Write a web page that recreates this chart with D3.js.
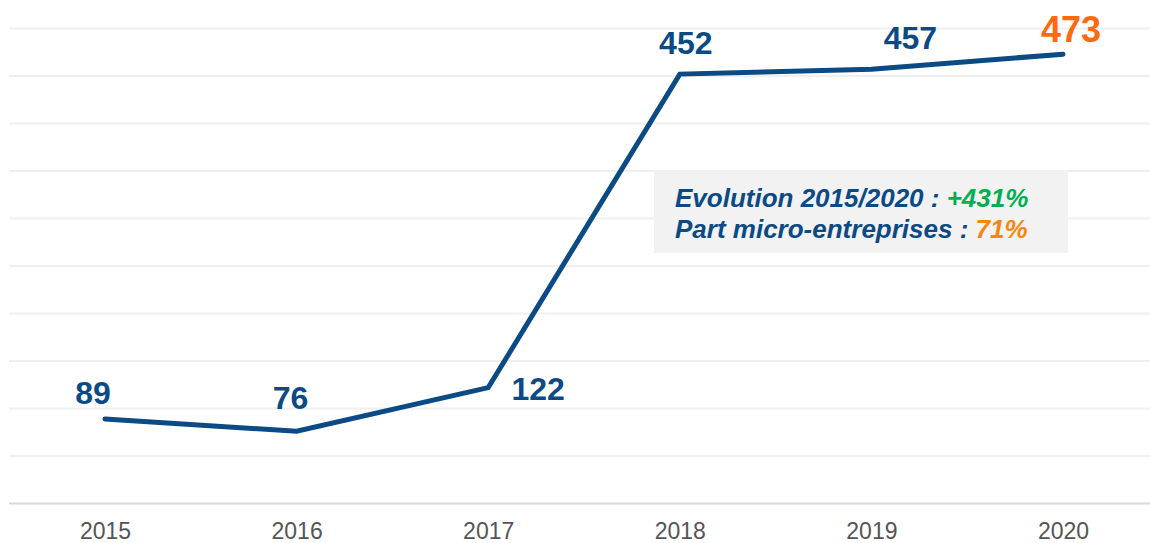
<!DOCTYPE html>
<html>
<head>
<meta charset="utf-8">
<script src="https://cdn.jsdelivr.net/npm/d3@7"></script>
<style>
  body { margin: 0; background: #fff; }
  svg { display: block; font-family: "Liberation Sans", Arial, sans-serif; }
</style>
</head>
<body>
<div id="chart"></div>
<script>
// data
const years = ["2015", "2016", "2017", "2018", "2019", "2020"];
const values = [89, 76, 122, 452, 457, 473];
const gridTicks = [0, 50, 100, 150, 200, 250, 300, 350, 400, 450, 500];
const noteLines = [
  ["Evolution 2015/2020 : ", "+431%"],
  ["Part micro-entreprises : ", "71%"]
];

const W = 1150, H = 543;
const navy = "#0b4a84";

const svg = d3.select("#chart").append("svg")
  .attr("width", W)
  .attr("height", H);

const x = d3.scalePoint()
  .domain(years)
  .range([105, 1063]);

const y = d3.scaleLinear()
  .domain([0, 500])
  .range([503.5, 28.5]);

// gridlines
svg.append("g").selectAll("line")
  .data(gridTicks)
  .enter()
  .append("line")
  .attr("x1", 9)
  .attr("x2", W)
  .attr("y1", d => y(d))
  .attr("y2", d => y(d))
  .attr("stroke", d => d === 0 ? "#d9d9d9" : "#efefef")
  .attr("stroke-width", 2);

// x axis labels
const xAxis = svg.append("g")
  .attr("transform", `translate(0,${y(0)})`)
  .call(d3.axisBottom(x).tickSize(0).tickPadding(19));
xAxis.select(".domain").remove();
xAxis.selectAll("text")
  .style("font-family", "'Liberation Sans', Arial, sans-serif")
  .style("font-size", "23px")
  .attr("fill", "#555555");

// note box
const box = svg.append("g");
box.append("rect")
  .attr("x", 654)
  .attr("y", 170)
  .attr("width", 414)
  .attr("height", 83)
  .attr("fill", "#f2f2f2");
box.selectAll("text")
  .data(noteLines)
  .enter()
  .append("text")
  .attr("x", 675)
  .attr("y", (d, i) => 207 + i * 31)
  .attr("font-size", 26)
  .attr("font-weight", "bold")
  .attr("font-style", "italic")
  .attr("fill", navy)
  .each(function(d, i) {
    const t = d3.select(this);
    t.append("tspan").text(d[0]);
    t.append("tspan")
      .attr("fill", i === 0 ? "#00b050" : "#f5870f")
      .text(d[1]);
  });

// line
const line = d3.line()
  .x((d, i) => x(years[i]))
  .y(d => y(d));

svg.append("path")
  .datum(values)
  .attr("d", line)
  .attr("fill", "none")
  .attr("stroke", navy)
  .attr("stroke-width", 5)
  .attr("stroke-linecap", "round")
  .attr("stroke-linejoin", "miter");

// value labels (offsets relative to each point)
const labelDx = [-12, -6, 50, 6, 39, 8];
const labelDy = [-15, -22, 12, -20, -20, -12];
svg.append("g").selectAll("text")
  .data(values)
  .enter()
  .append("text")
  .attr("x", (d, i) => x(years[i]) + labelDx[i])
  .attr("y", (d, i) => y(d) + labelDy[i])
  .attr("text-anchor", "middle")
  .attr("font-size", (d, i) => i === values.length - 1 ? 36 : 32)
  .attr("font-weight", "bold")
  .attr("fill", (d, i) => i === values.length - 1 ? "#ff6a10" : navy)
  .text(d => d);
</script>
</body>
</html>
